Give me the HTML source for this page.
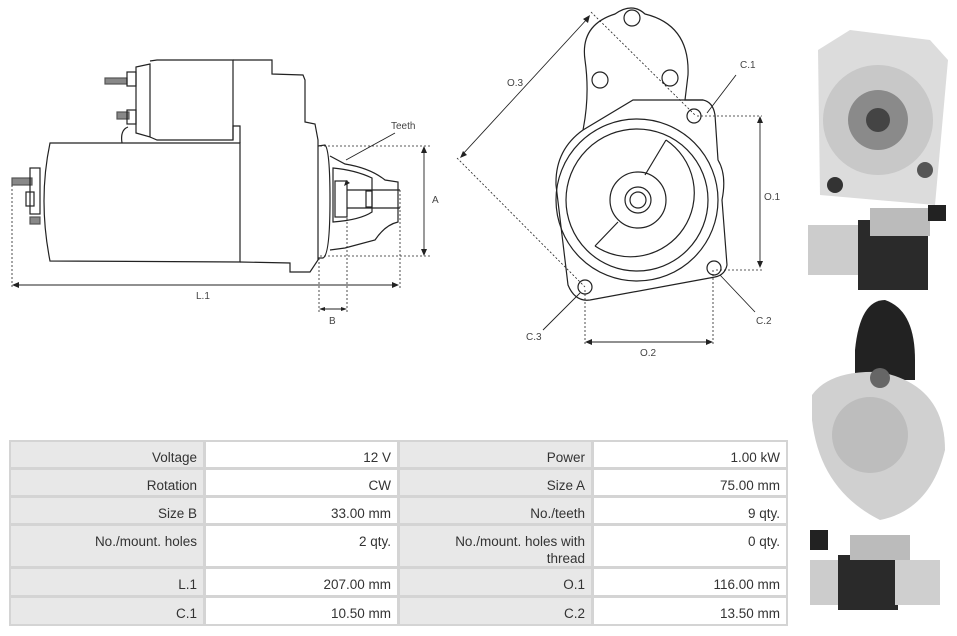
<!DOCTYPE html>
<html><head><meta charset="utf-8"><style>
body{margin:0;width:957px;height:636px;background:#fff;overflow:hidden;position:relative;font-family:"Liberation Sans",sans-serif}
svg{position:absolute;left:0;top:0}
#tb{position:absolute;left:9px;top:440px;width:779px;height:186px;background:#d4d4d4}
.c{position:absolute;box-sizing:border-box;text-align:right;padding:7px 6px 0 4px;font-size:13.5px;color:#333;line-height:17px}
.l{background:#e8e8e8}.v{background:#fff}
</style></head><body>
<svg width="957" height="636" viewBox="0 0 957 636" fill="none" stroke="#222" stroke-width="1.2" font-family="Liberation Sans" font-size="10">
<rect x="105" y="78" width="22" height="6" fill="#888" stroke="#555"/>
<rect x="117" y="112" width="12" height="7" fill="#888" stroke="#555"/>
<rect x="127" y="72" width="9" height="14"/><rect x="127" y="110" width="9" height="14"/>
<path d="M136 67 L150 64 L150 137 L136 133 Z"/>
<path d="M150 61 L157 60 L233 60 L233 140 L157 140 L150 137"/>
<path d="M233 60 L272 60 L272 74 L303 75 L305 80 L305 122 L315 124 L318 140 L318 260 L310 272 L290 272 L290 263 L240 262"/>
<path d="M50 143 L240 143 L240 262 L50 261 Q38 200 50 143 Z"/>
<path d="M233 140 L233 126 L240 126 L240 143"/>
<path d="M122 143 Q120 130 128 127"/>
<rect x="12" y="178" width="20" height="7" fill="#888" stroke="#555"/>
<rect x="30" y="168" width="10" height="46"/>
<rect x="26" y="192" width="8" height="14"/>
<rect x="30" y="217" width="10" height="7" fill="#888" stroke="#555"/>
<path d="M318 146 L325 145 Q330 150 330 200 Q330 255 323 258 L318 258"/>
<path d="M330 156 L345 164 Q370 168 385 180 L398 182 L398 222 Q385 225 375 240 L345 248 L330 250"/>
<path d="M333 168 Q355 170 372 178 L372 212 Q360 220 333 222 Z"/>
<rect x="335" y="181" width="12" height="36"/>
<path d="M347 190 L400 190 M347 208 L400 208"/>
<rect x="366" y="191" width="6" height="16"/>
<g stroke-width="0.8" stroke-dasharray="2,2">
<path d="M12 185 L12 288 M400 190 L400 288 M320 146 L430 146 M320 256 L430 256 M319 258 L319 313 M347 218 L347 313"/>
</g>
<g stroke-width="0.9"><path d="M14 285 L397 285 M424 148 L424 254 M321 309 L345 309 M346 160 L395 133"/></g>
<g fill="#222" stroke="none">
<path d="M12 285 L19 282 L19 288Z M399 285 L392 282 L392 288Z M424 146 L421 153 L427 153Z M424 256 L421 249 L427 249Z M319 309 L325 307 L325 311Z M347 309 L341 307 L341 311Z M344 186 L346 180 L350 183Z"/>
</g>
<g fill="#444" stroke="none" font-size="10">
<text x="391" y="129">Teeth</text><text x="432" y="203">A</text><text x="196" y="299">L.1</text><text x="329" y="324">B</text>
</g>
<path d="M583 130 Q590 95 585 60 Q580 25 615 14 Q632 2 645 14 Q690 25 688 75 L685 100 L703 100 Q713 102 715 115 L718 160 Q727 175 722 200 L727 265 Q725 275 715 277 L590 300 Q575 302 568 285 L556 185 Q555 150 583 130 Z"/>
<path d="M583 130 L633 100 L703 100"/>
<circle cx="632" cy="18" r="8"/><circle cx="600" cy="80" r="8"/><circle cx="670" cy="78" r="8"/>
<circle cx="637" cy="200" r="81"/><circle cx="637" cy="200" r="71"/>
<path d="M666 140 L645 175 M618 222 L595 246"/>
<path d="M666 140 A58 58 0 0 1 595 246"/>
<circle cx="638" cy="200" r="28"/><circle cx="638" cy="200" r="13"/><circle cx="638" cy="200" r="8"/>
<circle cx="694" cy="116" r="7"/><circle cx="714" cy="268" r="7"/><circle cx="585" cy="287" r="7"/>
<g stroke-width="0.8" stroke-dasharray="2,2">
<path d="M591 12 L696 116 M457 158 L585 287 M697 116 L762 116 M716 270 L762 270 M585 290 L585 345 M713 270 L713 345"/>
</g>
<g stroke-width="0.9"><path d="M462 155 L588 18 M760 118 L760 266 M587 342 L711 342 M707 113 L736 75 M720 275 L755 312 M580 293 L543 330"/></g>
<g fill="#222" stroke="none">
<path d="M460 158 L463 151 L467 155Z M590 15 L583 19 L588 23Z M760 116 L757 123 L763 123Z M760 268 L757 261 L763 261Z M585 342 L592 339 L592 345Z M713 342 L706 339 L706 345Z"/>
</g>
<g fill="#444" stroke="none" font-size="10">
<text x="507" y="86">O.3</text><text x="740" y="68">C.1</text><text x="764" y="200">O.1</text><text x="756" y="324">C.2</text><text x="640" y="356">O.2</text><text x="526" y="340">C.3</text>
</g>
<g stroke="none">
<path d="M818 50 L850 30 L930 40 L948 60 L935 205 L820 195 Z" fill="#dcdcdc"/>
<circle cx="878" cy="120" r="55" fill="#c8c8c8"/><circle cx="878" cy="120" r="30" fill="#8a8a8a"/><circle cx="878" cy="120" r="12" fill="#444"/>
<circle cx="835" cy="185" r="8" fill="#333"/><circle cx="925" cy="170" r="8" fill="#555"/>
<rect x="808" y="225" width="50" height="50" fill="#ccc"/><rect x="858" y="220" width="70" height="70" fill="#2a2a2a"/><rect x="870" y="208" width="60" height="28" fill="#bbb"/><rect x="928" y="205" width="18" height="16" fill="#222"/>
<path d="M855 350 Q860 300 885 300 Q915 310 915 360 L915 380 L855 380 Z" fill="#222"/>
<path d="M812 395 Q830 370 880 372 Q945 385 945 450 Q930 510 880 520 Q820 490 812 420 Z" fill="#d0d0d0"/>
<circle cx="870" cy="435" r="38" fill="#bdbdbd"/><circle cx="880" cy="378" r="10" fill="#666"/>
<rect x="810" y="560" width="30" height="45" fill="#ccc"/><rect x="838" y="555" width="60" height="55" fill="#2a2a2a"/><rect x="850" y="535" width="60" height="25" fill="#bbb"/><rect x="895" y="560" width="45" height="45" fill="#cfcfcf"/><rect x="810" y="530" width="18" height="20" fill="#222"/>
</g>
</svg>
<div id="tb">
<div class="c l" style="left:2px;top:2px;width:192px;height:25px">Voltage</div>
<div class="c v" style="left:197px;top:2px;width:191px;height:25px">12 V</div>
<div class="c l" style="left:391px;top:2px;width:191px;height:25px">Power</div>
<div class="c v" style="left:585px;top:2px;width:192px;height:25px">1.00 kW</div>
<div class="c l" style="left:2px;top:30px;width:192px;height:25px">Rotation</div>
<div class="c v" style="left:197px;top:30px;width:191px;height:25px">CW</div>
<div class="c l" style="left:391px;top:30px;width:191px;height:25px">Size A</div>
<div class="c v" style="left:585px;top:30px;width:192px;height:25px">75.00 mm</div>
<div class="c l" style="left:2px;top:58px;width:192px;height:25px">Size B</div>
<div class="c v" style="left:197px;top:58px;width:191px;height:25px">33.00 mm</div>
<div class="c l" style="left:391px;top:58px;width:191px;height:25px">No./teeth</div>
<div class="c v" style="left:585px;top:58px;width:192px;height:25px">9 qty.</div>
<div class="c l" style="left:2px;top:86px;width:192px;height:40px">No./mount. holes</div>
<div class="c v" style="left:197px;top:86px;width:191px;height:40px">2 qty.</div>
<div class="c l" style="left:391px;top:86px;width:191px;height:40px">No./mount. holes with<br>thread</div>
<div class="c v" style="left:585px;top:86px;width:192px;height:40px">0 qty.</div>
<div class="c l" style="left:2px;top:129px;width:192px;height:26px">L.1</div>
<div class="c v" style="left:197px;top:129px;width:191px;height:26px">207.00 mm</div>
<div class="c l" style="left:391px;top:129px;width:191px;height:26px">O.1</div>
<div class="c v" style="left:585px;top:129px;width:192px;height:26px">116.00 mm</div>
<div class="c l" style="left:2px;top:158px;width:192px;height:26px">C.1</div>
<div class="c v" style="left:197px;top:158px;width:191px;height:26px">10.50 mm</div>
<div class="c l" style="left:391px;top:158px;width:191px;height:26px">C.2</div>
<div class="c v" style="left:585px;top:158px;width:192px;height:26px">13.50 mm</div>
</div>
</body></html>
